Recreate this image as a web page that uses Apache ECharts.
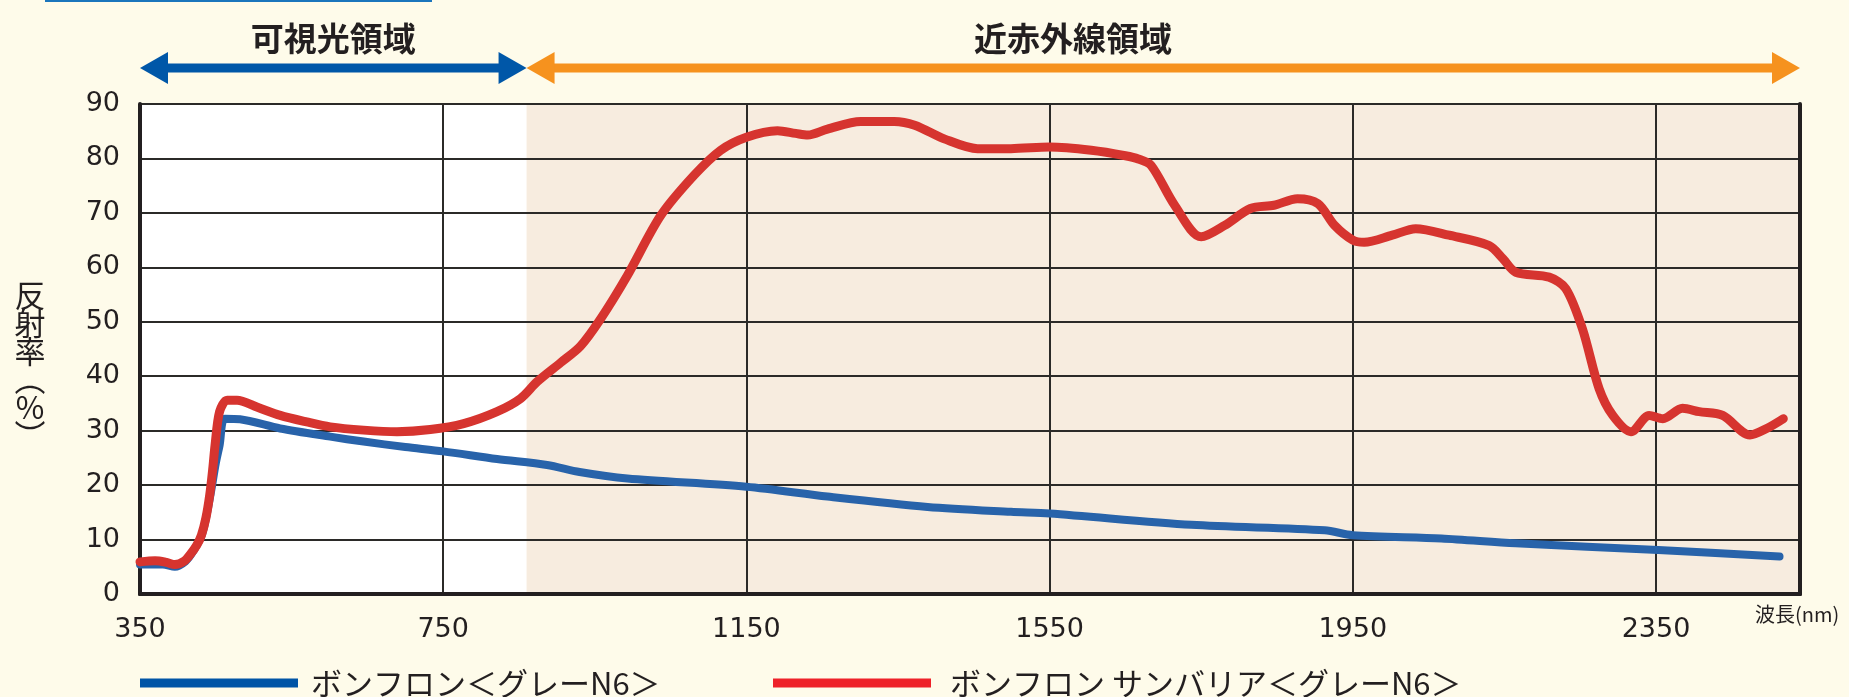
<!DOCTYPE html>
<html>
<head>
<meta charset="utf-8">
<style>
  html, body { margin: 0; padding: 0; background: #fefbea; }
  #chart { width: 1849px; height: 697px; }
</style>
<script src="https://cdn.jsdelivr.net/npm/echarts@6/dist/echarts.min.js"></script>
</head>
<body>
<div id="chart"></div>
<script>
// wavelength (nm) / reflectance (%)
const blueWave = [350, 380, 396, 410, 420, 432, 442, 450, 455, 462, 482, 535, 601, 645, 700, 750, 821, 887, 930, 993, 1150, 1257, 1389, 1499, 1550, 1737, 1913, 1950, 2067, 2165, 2353, 2513]
const blueVal = [5.4, 5.4, 5.0, 6.0, 7.8, 11, 17.5, 24, 27.3, 32.2, 32.1, 30.4, 28.9, 28.0, 27.0, 26.2, 24.8, 23.7, 22.4, 21.2, 19.7, 17.9, 16.0, 15.1, 14.8, 12.7, 11.7, 10.8, 10.2, 9.3, 8.1, 6.9]

const redWave = [350, 370, 385, 396, 408, 416, 425, 431, 437, 442, 446, 449, 455, 465, 478, 505, 535, 570, 601, 645, 689, 733, 777, 821, 852, 874, 905, 931, 958, 993, 1037, 1081, 1116, 1150, 1191, 1215, 1231, 1257, 1301, 1345, 1372, 1411, 1455, 1499, 1550, 1605, 1650, 1667, 1684, 1715, 1750, 1781, 1815, 1846, 1877, 1904, 1926, 1950, 1965, 2002, 2033, 2077, 2130, 2148, 2165, 2209, 2231, 2253, 2275, 2293, 2317, 2341, 2359, 2385, 2407, 2438, 2474, 2496, 2518]
const redVal = [5.9, 6.1, 5.8, 5.4, 6.0, 7.2, 9.0, 10.8, 14, 18.2, 23, 27.3, 33.5, 35.6, 35.6, 34.3, 32.8, 31.6, 30.7, 30.1, 29.8, 30.2, 31.3, 33.5, 35.9, 39, 42.5, 45.5, 50.6, 58.5, 69.5, 76.9, 81.5, 83.9, 85.1, 84.6, 84.3, 85.4, 86.8, 86.8, 86.1, 83.6, 81.8, 81.8, 82.1, 81.5, 80.5, 79.9, 78.7, 71.4, 65.6, 67.7, 70.8, 71.4, 72.6, 71.7, 67.7, 65.0, 64.6, 65.9, 67.1, 65.9, 64.0, 61.6, 59.1, 58.2, 56.1, 48.7, 37.7, 32.8, 29.8, 32.8, 32.2, 34.1, 33.5, 32.8, 29.2, 30.4, 32.2]

const xTicks = [350, 750, 1150, 1550, 1950, 2350]
const regionBounds = [350, 860, 2540] // 可視光 / 近赤外線
const regionNames = ['可視光領域', '近赤外線領域']
const seriesNames = ['ボンフロン＜グレーN6＞', 'ボンフロン サンバリア＜グレーN6＞']

const lineBlue = '#2863aa'
const lineRed = '#d6342f'
const ink = '#231f20'
const labelFont = 'DejaVu Sans'
const cjkFont = 'Noto Sans CJK JP'

function pairs(xs, ys) {
  return xs.map((x, i) => [x, ys[i]])
}

const chart = echarts.init(document.getElementById('chart'), null, { renderer: 'canvas' })

chart.setOption({
  animation: false,
  backgroundColor: '#fefbea',
  grid: {
    left: 140,
    right: 49,
    top: 104,
    bottom: 103,
    show: true,
    backgroundColor: '#ffffff',
    borderWidth: 0,
    outerBoundsMode: 'none'
  },
  legend: [
    {
      left: 140, top: 667, padding: 0,
      icon: 'rect', itemWidth: 158, itemHeight: 9,
      textStyle: { fontFamily: cjkFont, fontSize: 31, color: ink, lineHeight: 32, padding: [0, 0, 0, 8] },
      data: [{ name: seriesNames[0], itemStyle: { color: '#0054a6' } }]
    },
    {
      left: 773, top: 667, padding: 0,
      icon: 'rect', itemWidth: 158, itemHeight: 9,
      textStyle: { fontFamily: cjkFont, fontSize: 31, color: ink, lineHeight: 32, padding: [0, 0, 0, 14] },
      data: [{ name: seriesNames[1], itemStyle: { color: '#ee2129' } }]
    }
  ],
  xAxis: [
    {
      type: 'value',
      min: regionBounds[0],
      max: regionBounds[2],
      z: 2,
      axisLine: { show: true, lineStyle: { color: ink, width: 4 } },
      axisTick: { show: false, customValues: xTicks },
      axisLabel: {
        customValues: xTicks,
        formatter: v => String(v),
        margin: 22,
        fontFamily: labelFont,
        fontSize: 27,
        color: ink
      },
      splitLine: { show: true, lineStyle: { color: '#2b2a28', width: 2 } }
    },
    {
      type: 'value',
      position: 'top',
      min: regionBounds[0],
      max: regionBounds[2],
      z: 2,
      axisLine: { show: true, lineStyle: { color: ink, width: 4 } },
      axisTick: { show: false },
      axisLabel: { show: false },
      splitLine: { show: false }
    }
  ],
  yAxis: [
    {
      type: 'value',
      min: 0,
      max: 90,
      interval: 10,
      z: 2,
      axisLine: { show: true, lineStyle: { color: ink, width: 4 } },
      axisTick: { show: false },
      axisLabel: {
        margin: 20,
        fontFamily: labelFont,
        fontSize: 27,
        color: ink
      },
      splitLine: { show: true, lineStyle: { color: '#2b2a28', width: 2 } }
    },
    {
      type: 'value',
      position: 'right',
      min: 0,
      max: 90,
      z: 2,
      axisLine: { show: true, lineStyle: { color: ink, width: 4 } },
      axisTick: { show: false },
      axisLabel: { show: false },
      splitLine: { show: false }
    }
  ],
  series: [
    {
      type: 'line',
      data: [],
      z: 1,
      silent: true,
      markArea: {
        silent: true,
        itemStyle: { color: '#f7ecdf' },
        data: [[{ xAxis: regionBounds[1] }, { xAxis: regionBounds[2] }]]
      }
    },
    {
      name: seriesNames[0],
      type: 'line',
      z: 3,
      smooth: 0.3,
      showSymbol: false,
      color: lineBlue,
      lineStyle: { color: lineBlue, width: 8, cap: 'round', join: 'round' },
      data: pairs(blueWave, blueVal)
    },
    {
      name: seriesNames[1],
      type: 'line',
      z: 4,
      smooth: 0.3,
      showSymbol: false,
      color: lineRed,
      lineStyle: { color: lineRed, width: 9, cap: 'round', join: 'round' },
      data: pairs(redWave, redVal)
    }
  ]
})

// region arrows above the plot, placed from the x scale
const px = regionBounds.map(v => chart.convertToPixel({ xAxisIndex: 0 }, v))
const arrowY = 68
const headLen = 28
const headHalf = 16
const shaftHalf = 4.5

function doubleArrow(x0, x1, color) {
  return [
    { type: 'rect', shape: { x: x0 + headLen - 1, y: arrowY - shaftHalf, width: x1 - x0 - 2 * headLen + 2, height: shaftHalf * 2 }, style: { fill: color } },
    { type: 'polygon', shape: { points: [[x0, arrowY], [x0 + headLen, arrowY - headHalf], [x0 + headLen, arrowY + headHalf]] }, style: { fill: color } },
    { type: 'polygon', shape: { points: [[x1, arrowY], [x1 - headLen, arrowY - headHalf], [x1 - headLen, arrowY + headHalf]] }, style: { fill: color } }
  ]
}

chart.setOption({
  graphic: [
    { type: 'rect', shape: { x: 45, y: 0, width: 387, height: 2 }, style: { fill: '#1b75bc' } },
    ...doubleArrow(px[0], px[1], '#0057a8'),
    ...doubleArrow(px[1], px[2], '#f6921e'),
    {
      type: 'text', x: (px[0] + px[1]) / 2, y: 38,
      style: { text: regionNames[0], font: 'bold 33px "Noto Sans CJK JP"', fill: ink, align: 'center', verticalAlign: 'middle' }
    },
    {
      type: 'text', x: 1073, y: 38,
      style: { text: regionNames[1], font: 'bold 33px "Noto Sans CJK JP"', fill: ink, align: 'center', verticalAlign: 'middle' }
    },
    {
      type: 'text', x: 30, y: 365,
      style: { text: '反\n射\n率\n︵\n%\n︶', font: '31px "Noto Sans CJK JP"', lineHeight: 28, fill: ink, align: 'center', verticalAlign: 'middle' }
    },
    {
      type: 'text', x: 1755, y: 614,
      style: { text: '波長(nm)', font: '20px "Noto Sans CJK JP"', fill: ink, align: 'left', verticalAlign: 'middle' }
    }
  ]
})
</script>
</body>
</html>
